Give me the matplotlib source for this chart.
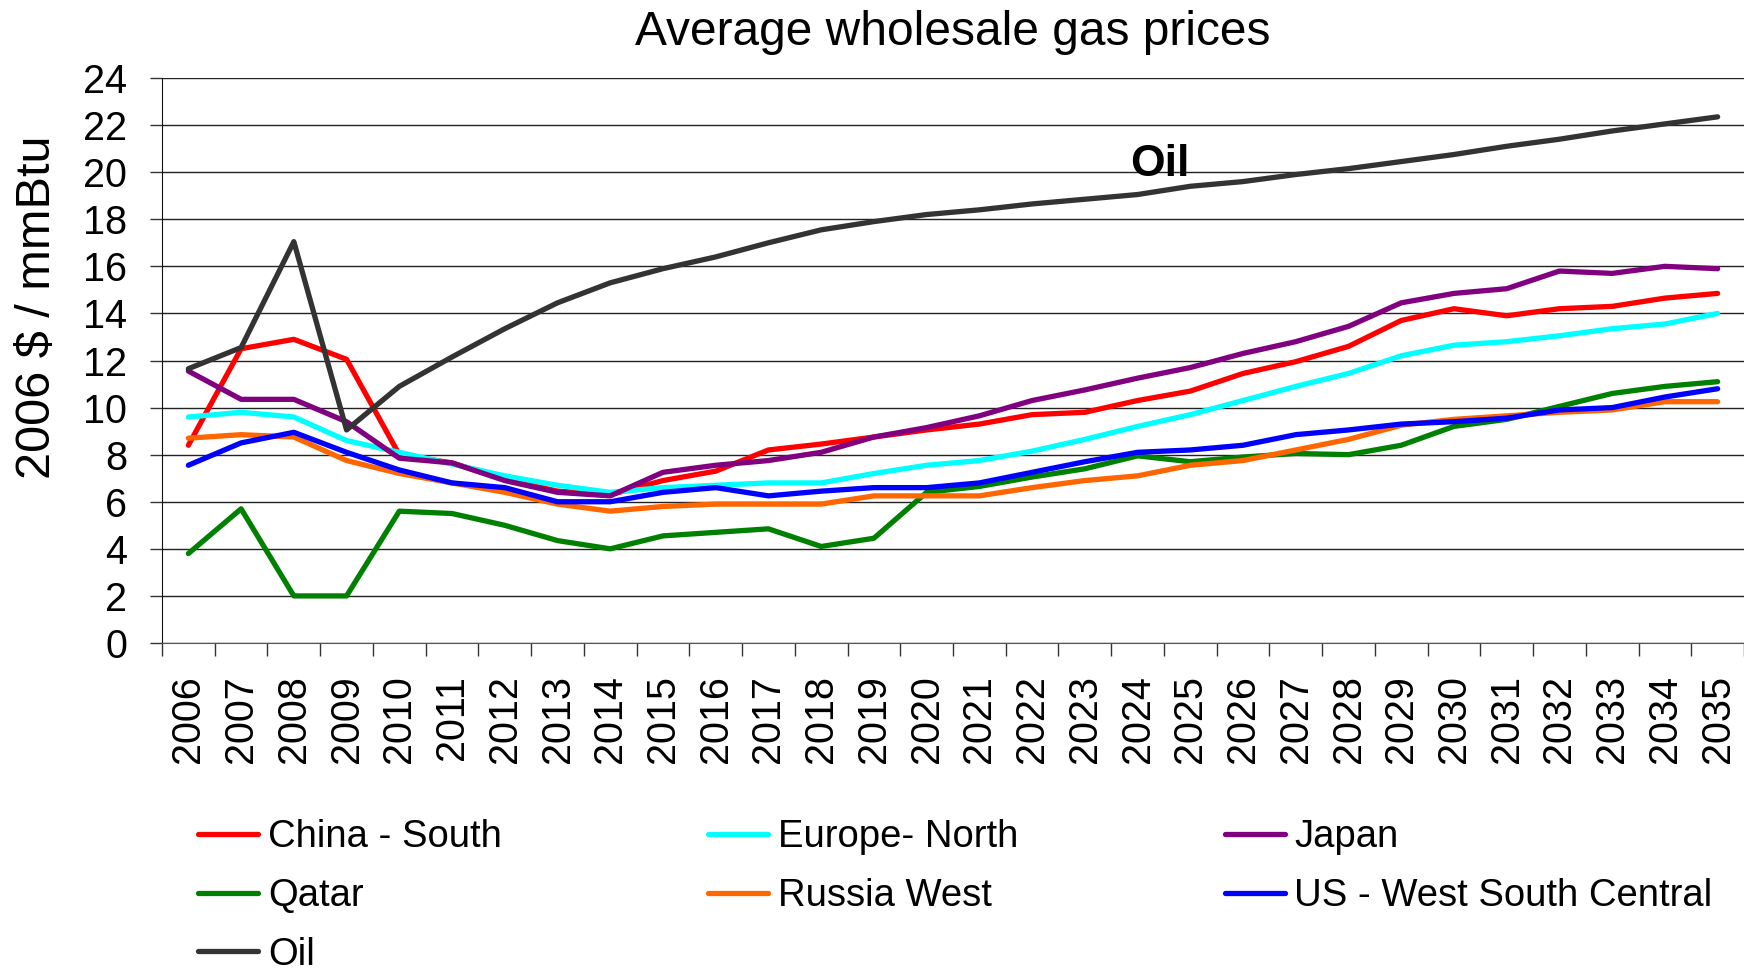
import matplotlib
matplotlib.use("Agg")
import matplotlib.pyplot as plt
import numpy as np

plt.rcParams['font.family'] = ['Liberation Sans', 'DejaVu Sans']

# data, 2006 $ / mmBtu
years = list(range(2006, 2036))

china_south = [8.4, 12.5, 12.9, 12.05, 8.0, 7.65, 6.95, 6.45, 6.3, 6.9,
               7.3, 8.2, 8.45, 8.75, 9.05, 9.3, 9.7, 9.8, 10.3, 10.7,
               11.45, 11.95, 12.6, 13.7, 14.2, 13.9, 14.2, 14.3, 14.65, 14.85]
europe_north = [9.6, 9.8, 9.6, 8.6, 8.1, 7.6, 7.1, 6.7, 6.4, 6.6,
                6.7, 6.8, 6.8, 7.2, 7.55, 7.75, 8.15, 8.65, 9.2, 9.7,
                10.3, 10.9, 11.45, 12.2, 12.65, 12.8, 13.05, 13.35, 13.55, 14.0]
japan = [11.55, 10.35, 10.35, 9.4, 7.85, 7.65, 6.9, 6.4, 6.25, 7.25,
         7.55, 7.75, 8.1, 8.75, 9.15, 9.65, 10.3, 10.75, 11.25, 11.7,
         12.3, 12.8, 13.45, 14.45, 14.85, 15.05, 15.8, 15.7, 16.0, 15.9]
qatar = [3.8, 5.7, 2.0, 2.0, 5.6, 5.5, 5.0, 4.35, 4.0, 4.55,
         4.7, 4.85, 4.1, 4.45, 6.4, 6.65, 7.05, 7.4, 7.95, 7.7,
         7.9, 8.05, 8.0, 8.4, 9.2, 9.5, 10.05, 10.6, 10.9, 11.1]
russia_west = [8.7, 8.85, 8.75, 7.75, 7.2, 6.8, 6.4, 5.9, 5.6, 5.8,
               5.9, 5.9, 5.9, 6.25, 6.25, 6.25, 6.6, 6.9, 7.1, 7.55,
               7.75, 8.2, 8.65, 9.25, 9.5, 9.65, 9.8, 9.9, 10.25, 10.25]
us_wsc = [7.55, 8.5, 8.95, 8.1, 7.35, 6.8, 6.6, 6.0, 6.0, 6.4,
          6.6, 6.25, 6.45, 6.6, 6.6, 6.8, 7.25, 7.7, 8.1, 8.2,
          8.4, 8.85, 9.05, 9.3, 9.4, 9.55, 9.9, 10.0, 10.45, 10.8]
oil = [11.65, 12.55, 17.05, 9.05, 10.9, 12.15, 13.35, 14.45, 15.3, 15.9,
       16.4, 17.0, 17.55, 17.9, 18.2, 18.4, 18.65, 18.85, 19.05, 19.4,
       19.6, 19.9, 20.15, 20.45, 20.75, 21.1, 21.4, 21.75, 22.05, 22.35]

series = [
    ("China - South", china_south, "#FF0000"),
    ("Europe- North", europe_north, "#00FFFF"),
    ("Japan", japan, "#800080"),
    ("Qatar", qatar, "#008000"),
    ("Russia West", russia_west, "#FF6600"),
    ("US - West South Central", us_wsc, "#0000FF"),
    ("Oil", oil, "#333333"),
]

W, H = 1744, 973
fig = plt.figure(figsize=(W / 100, H / 100), dpi=100)
ax = fig.add_axes([162 / W, 1 - 643 / H, (W - 162) / W, 565 / H])

x = np.arange(len(years))
lines = {}
for name, vals, col in series:
    ln, = ax.plot(x, vals, color=col, lw=3.8, solid_capstyle='round', label=name)
    lines[name] = ln

ax.set_xlim(-0.5, len(years) - 0.5)
ax.set_ylim(0, 24)
ax.set_yticks(np.arange(0, 25, 2))
ax.yaxis.grid(True, color='#222222', lw=1.0)
ax.set_axisbelow(True)

# category axis: ticks between years, labels centred
ax.set_xticks(np.arange(-0.5, len(years), 1))
ax.set_xticklabels([])
ax.set_xticks(x, minor=True)
ax.set_xticklabels([str(y) for y in years], minor=True, rotation=90, fontsize=28.5)
ax.tick_params(axis='x', which='major', length=9, width=1, color='#333333', direction='out')
ax.tick_params(axis='x', which='minor', length=0, pad=23)
ax.tick_params(axis='y', length=9, width=1, color='#333333', labelsize=28.5, pad=16)

for s in ['top', 'right']:
    ax.spines[s].set_visible(False)
ax.spines['left'].set_color('#111111')
ax.spines['bottom'].set_color('#555555')

ax.set_title("Average wholesale gas prices", fontsize=34.5, pad=24)
ax.set_ylabel("2006 $ / mmBtu", fontsize=35)
ax.yaxis.set_label_coords(-0.0645, 0.595)

ax.text(18.43, 19.85, "Oil", fontsize=32, fontweight='bold', ha='center', va='baseline')

order = ["China - South", "Qatar", "Oil", "Europe- North", "Russia West",
         "Japan", "US - West South Central"]
fig.legend([lines[n] for n in order], order, ncol=3, frameon=False,
           loc='upper left', bbox_to_anchor=(198 / W, 1 - 819 / H),
           fontsize=27.5, handlelength=1.57, handletextpad=0.26,
           columnspacing=5.40, labelspacing=0.60, borderpad=0, borderaxespad=0)

fig.savefig("out.png", dpi=100)
